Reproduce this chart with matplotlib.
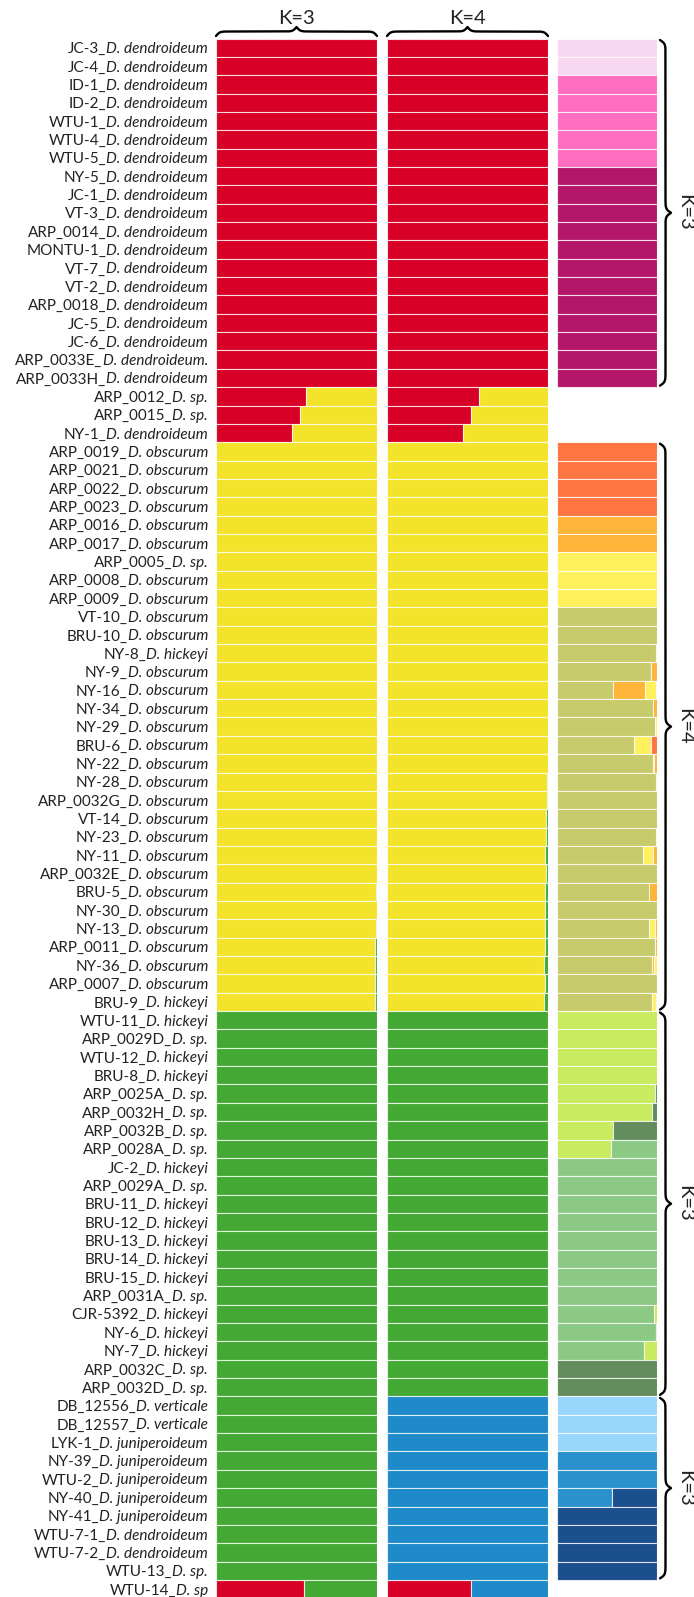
import numpy as np
import matplotlib
matplotlib.use('Agg')
import matplotlib.pyplot as plt
from matplotlib.transforms import offset_copy

plt.rcParams["font.family"] = ["Lato", "DejaVu Sans"]

# sample ids and species, top to bottom
samples = ["JC-3", "JC-4", "ID-1", "ID-2", "WTU-1", "WTU-4", "WTU-5", "NY-5", "JC-1", "VT-3",
           "ARP_0014", "MONTU-1", "VT-7", "VT-2", "ARP_0018", "JC-5", "JC-6", "ARP_0033E", "ARP_0033H",
           "ARP_0012", "ARP_0015", "NY-1",
           "ARP_0019", "ARP_0021", "ARP_0022", "ARP_0023", "ARP_0016", "ARP_0017", "ARP_0005", "ARP_0008",
           "ARP_0009", "VT-10", "BRU-10", "NY-8", "NY-9", "NY-16", "NY-34", "NY-29", "BRU-6", "NY-22",
           "NY-28", "ARP_0032G", "VT-14", "NY-23", "NY-11", "ARP_0032E", "BRU-5", "NY-30", "NY-13",
           "ARP_0011", "NY-36", "ARP_0007", "BRU-9",
           "WTU-11", "ARP_0029D", "WTU-12", "BRU-8", "ARP_0025A", "ARP_0032H", "ARP_0032B", "ARP_0028A",
           "JC-2", "ARP_0029A", "BRU-11", "BRU-12", "BRU-13", "BRU-14", "BRU-15", "ARP_0031A", "CJR-5392",
           "NY-6", "NY-7", "ARP_0032C", "ARP_0032D",
           "DB_12556", "DB_12557", "LYK-1", "NY-39", "WTU-2", "NY-40", "NY-41", "WTU-7-1", "WTU-7-2",
           "WTU-13", "WTU-14"]

species = (["D. dendroideum"] * 17 + ["D. dendroideum.", "D. dendroideum"]
           + ["D. sp.", "D. sp.", "D. dendroideum"]
           + ["D. obscurum"] * 6 + ["D. sp."] + ["D. obscurum"] * 4 + ["D. hickeyi"]
           + ["D. obscurum"] * 18 + ["D. hickeyi"]
           + ["D. hickeyi", "D. sp.", "D. hickeyi", "D. hickeyi", "D. sp.", "D. sp.", "D. sp.", "D. sp.",
              "D. hickeyi", "D. sp."] + ["D. hickeyi"] * 5
           + ["D. sp.", "D. hickeyi", "D. hickeyi", "D. hickeyi", "D. sp.", "D. sp."]
           + ["D. verticale"] * 2 + ["D. juniperoideum"] * 5 + ["D. dendroideum"] * 2
           + ["D. sp.", "D. sp"])

# K=3 membership (red, yellow, green)
k3_red = [1.0] * 19 + [0.56, 0.52, 0.47] + [0.0] * 62 + [0.545]
k3_yellow = ([0.0] * 19 + [0.44, 0.48, 0.53] + [1.0] * 21
             + [0.997, 0.997, 1.0, 0.994, 1.0, 0.994, 0.988, 0.986, 0.986, 0.985] + [0.0] * 32)
k3_green = ([0.0] * 43 + [0.003, 0.003, 0.0, 0.006, 0.0, 0.006, 0.012, 0.014, 0.014, 0.015]
            + [1.0] * 31 + [0.455])

# K=4 membership (red, yellow, green, blue)
k4_red = [1.0] * 19 + [0.57, 0.52, 0.47] + [0.0] * 62 + [0.52]
k4_yellow = ([0.0] * 19 + [0.43, 0.48, 0.53] + [1.0] * 18
             + [0.995, 0.995, 0.988, 0.99, 0.984, 0.99, 0.984, 0.984, 0.98, 0.98, 0.973, 0.98, 0.973]
             + [0.0] * 32)
k4_green = ([0.0] * 40 + [0.005, 0.005, 0.012, 0.01, 0.016, 0.01, 0.016, 0.016, 0.02, 0.02, 0.027, 0.02, 0.027]
            + [1.0] * 21 + [0.0] * 11)
k4_blue = [0.0] * 74 + [1.0] * 10 + [0.48]

main_colors = {"red": "#D80027", "yellow": "#F3E42B", "green": "#43A934", "blue": "#1E8AC9"}

# hierarchical runs within each group
sub_dend = [[("blush", 1.0)]] * 2 + [[("pink", 1.0)]] * 5 + [[("plum", 1.0)]] * 12
sub_obs = ([[("coral", 1.0)]] * 4 + [[("amber", 1.0)]] * 2 + [[("lemon", 1.0)]] * 3 + [
    [("olive", 1.0)],
    [("olive", 1.0)],
    [("olive", 0.99), ("amber", 0.01)],
    [("olive", 0.94), ("amber", 0.055), ("lemon", 0.005)],
    [("olive", 0.557), ("amber", 0.32), ("lemon", 0.113), ("blush", 0.01)],
    [("olive", 0.96), ("amber", 0.04)],
    [("olive", 0.977), ("lemon", 0.023)],
    [("olive", 0.773), ("lemon", 0.167), ("coral", 0.06)],
    [("olive", 0.96), ("lemon", 0.012), ("amber", 0.028)],
    [("olive", 0.99), ("amber", 0.01)],
    [("olive", 1.0)],
    [("olive", 1.0)],
    [("olive", 0.99), ("lemon", 0.01)],
    [("olive", 0.863), ("lemon", 0.097), ("amber", 0.04)],
    [("olive", 1.0)],
    [("olive", 0.923), ("amber", 0.077)],
    [("olive", 1.0)],
    [("olive", 0.923), ("lemon", 0.057), ("amber", 0.02)],
    [("olive", 0.983), ("amber", 0.017)],
    [("olive", 0.95), ("amber", 0.015), ("lemon", 0.035)],
    [("olive", 1.0)],
    [("olive", 0.95), ("lemon", 0.035), ("amber", 0.015)],
])
sub_hick = ([[("lime", 1.0)]] * 4 + [
    [("lime", 0.98), ("moss", 0.02)],
    [("lime", 0.947), ("moss", 0.053)],
    [("lime", 0.56), ("moss", 0.44)],
    [("lime", 0.54), ("sage", 0.46)],
] + [[("sage", 1.0)]] * 8 + [
    [("sage", 0.97), ("lime", 0.03)],
    [("sage", 0.985), ("moss", 0.015)],
    [("sage", 0.87), ("lime", 0.13)],
] + [[("moss", 1.0)]] * 2)
sub_vert = ([[("sky", 1.0)]] * 3 + [[("azure", 1.0)]] * 2
            + [[("azure", 0.546), ("navy", 0.454)]] + [[("navy", 1.0)]] * 4)

sub_colors = {"blush": "#F8D7F1", "pink": "#FF6EC1", "plum": "#B4176A", "coral": "#FF7541",
              "amber": "#FFB43A", "lemon": "#FFF05E", "olive": "#C7CB6B", "lime": "#C9EB5F",
              "moss": "#628C5C", "sage": "#8CC985", "sky": "#99D6FB", "azure": "#2B91CC",
              "navy": "#1C4F8E"}

# (first row, last row, label) for the right-hand braces
sub_groups = [(0, 18, "K=3"), (22, 52, "K=4"), (53, 73, "K=3"), (74, 83, "K=3")]

sub_rows = sub_dend + [None] * 3 + sub_obs + sub_hick + sub_vert + [None]

W, H = 694, 1597
fig = plt.figure(figsize=(W / 100, H / 100), dpi=100)

n = len(samples)
top, row_h = 38.5, 18.35
bottom = top + n * row_h


def column_axes(x0, x1):
    ax = fig.add_axes([x0 / W, 1 - bottom / H, (x1 - x0) / W, (bottom - top) / H])
    ax.set_xlim(0, 1)
    ax.set_ylim(n - 0.5, -0.5)
    ax.axis("off")
    return ax


ax1 = column_axes(216, 377)
ax2 = column_axes(387, 548)
ax3 = column_axes(557, 657)

bar_kw = dict(height=1.0, edgecolor=(1, 1, 1, 0.75), linewidth=0.8)


def stacked(ax, parts):
    left = np.zeros(n)
    for vals, c in parts:
        vals = np.asarray(vals, dtype=float)
        keep = vals > 0
        ax.barh(np.arange(n)[keep], vals[keep], left=left[keep], color=c, **bar_kw)
        left += vals


stacked(ax1, [(k3_red, main_colors["red"]), (k3_yellow, main_colors["yellow"]),
              (k3_green, main_colors["green"])])
stacked(ax2, [(k4_red, main_colors["red"]), (k4_yellow, main_colors["yellow"]),
              (k4_green, main_colors["green"]), (k4_blue, main_colors["blue"])])

for i, segs in enumerate(sub_rows):
    if segs is None:
        continue
    left = 0.0
    for key, v in segs:
        ax3.barh(i, v, left=left, color=sub_colors[key], **bar_kw)
        left += v

# row labels: plain id, italic species name
renderer = fig.canvas.get_renderer()
for i, (s, sp) in enumerate(zip(samples, species)):
    t = ax1.text(0, i, sp, style="italic", fontsize=11, ha="right", va="baseline", color="#222222",
                 transform=offset_copy(ax1.transData, fig=fig, x=-8, y=-5.5, units="dots"))
    w = t.get_window_extent(renderer).width
    ax1.text(0, i, s + "_", fontsize=11, ha="right", va="baseline", color="#222222",
             transform=offset_copy(ax1.transData, fig=fig, x=-8 - w, y=-5.5, units="dots"))

# braces drawn in pixel space
ov = fig.add_axes([0, 0, 1, 1], zorder=5)
ov.set_xlim(0, W)
ov.set_ylim(0, H)
ov.axis("off")
ov.patch.set_alpha(0)


def to_px(ax, x, y):
    return ov.transData.inverted().transform(ax.transData.transform((x, y)))


def brace(a, b, base, depth, vertical):
    a, b = min(a, b), max(a, b)
    s = np.linspace(a, b, 401)
    half = s[:201]
    beta = 0.55
    f = 1 / (1 + np.exp(-beta * (half - half[0]))) + 1 / (1 + np.exp(-beta * (half - half[-1])))
    f = np.concatenate([f, f[-2::-1]]) - 0.5
    d = base + depth * f
    if vertical:
        ov.plot(d, s, color="black", lw=1.7, solid_capstyle="round")
    else:
        ov.plot(s, d, color="black", lw=1.7, solid_capstyle="round")


for ax, lab in [(ax1, "K=3"), (ax2, "K=4")]:
    x0, ytop = to_px(ax, 0, -0.5)
    x1, _ = to_px(ax, 1, -0.5)
    brace(x0, x1, ytop + 2.5, 9, vertical=False)
    ov.text((x0 + x1) / 2, ytop + 2.5 + 9 + 3, lab, fontsize=14.5, ha="center", va="baseline",
            color="#222222")

for r0, r1, lab in sub_groups:
    xr, ya = to_px(ax3, 1, r0 - 0.5)
    _, yb = to_px(ax3, 1, r1 + 0.5)
    brace(ya - 1.5, yb + 1.5, xr + 3, 11, vertical=True)
    ov.text(xr + 3 + 11 + 14, (ya + yb) / 2, lab, fontsize=14.5, rotation=270,
            ha="center", va="center", color="#222222")

fig.savefig("out.png", dpi=100)
